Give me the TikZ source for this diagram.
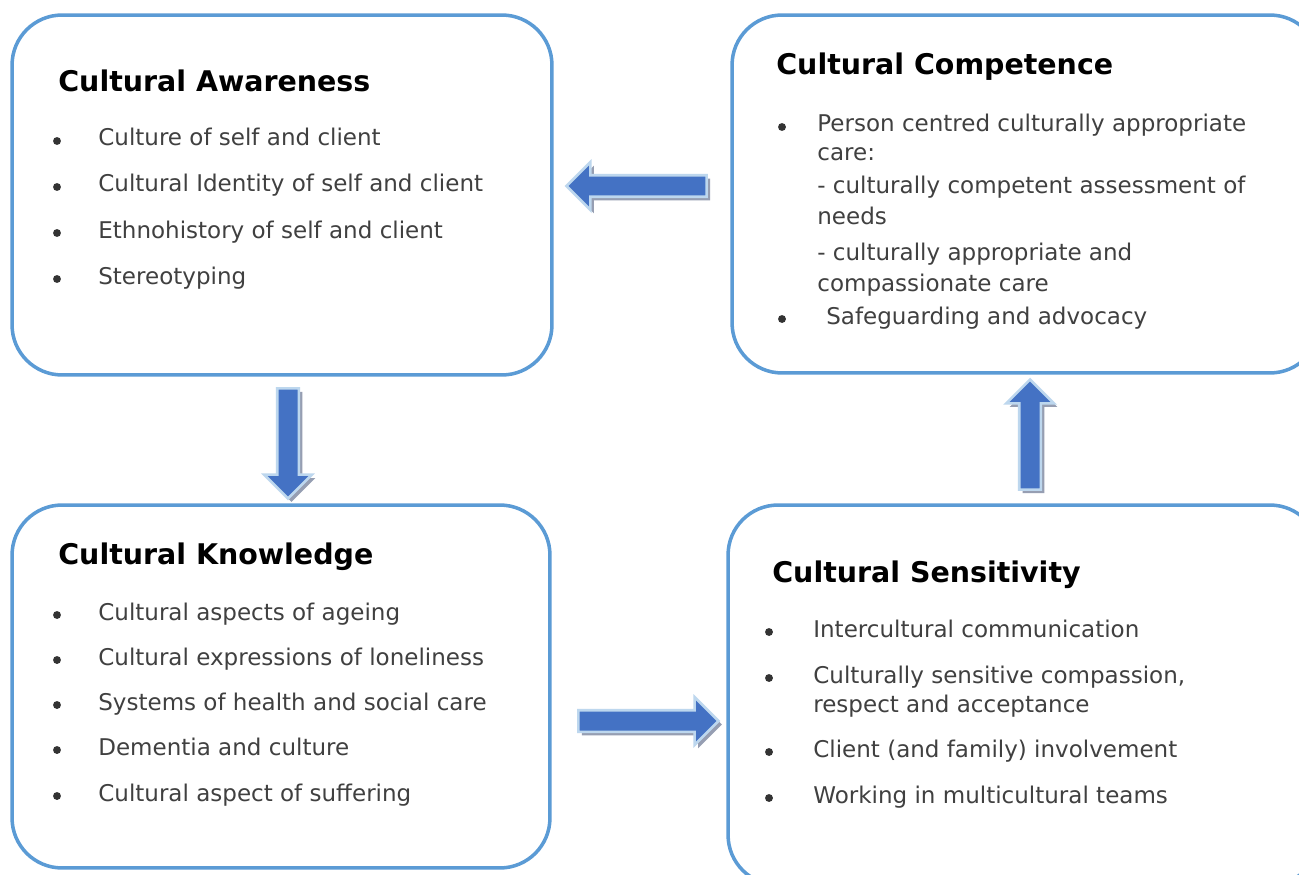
\documentclass[tikz,border=0pt]{standalone}
\usepackage{fontspec}
\setmainfont{DejaVu Sans}
\usetikzlibrary{shapes.arrows,shadows}

\definecolor{boxblue}{RGB}{91,155,213}
\definecolor{arrowblue}{RGB}{68,114,196}
\definecolor{arrowedge}{RGB}{189,215,238}
\definecolor{arrowshade}{RGB}{150,158,178}
\definecolor{itemgray}{RGB}{64,64,64}

\tikzset{
  box/.style={draw=boxblue, line width=2pt, rounded corners=1cm, fill=white},
  boxtitle/.style={anchor=base west, inner sep=0pt, font=\fontsize{16.2}{19}\selectfont\bfseries},
  boxitem/.style={anchor=base west, inner sep=0pt, text=itemgray, font=\fontsize{13.1}{15}\selectfont},
  dot/.style={circle, fill=itemgray!80!black, inner sep=0pt, minimum size=4.5pt},
  blockarrow/.style={single arrow, draw=arrowedge, fill=arrowblue, line width=1.5pt,
    inner sep=0pt, single arrow head extend=0.26cm,
    drop shadow={shadow xshift=2pt, shadow yshift=-2pt, fill=arrowshade, opacity=1}},
  flat/.style={inner ysep=0.19cm},
  upright/.style={inner xsep=0.19cm}
}

\begin{document}
\begin{tikzpicture}[x=0.02cm,y=-0.02cm]
  \clip (0,0) rectangle (1299,875);
  \fill[white] (0,0) rectangle (1299,875);

  % the four boxes
  \node[box, minimum width=10.8cm, minimum height=7.2cm] (awareness) at (282,195) {};
  \node[box, minimum width=11.76cm, minimum height=7.16cm] (competence) at (1026,194) {};
  \node[box, minimum width=10.76cm, minimum height=7.26cm] (knowledge) at (281,686.5) {};
  \node[box, minimum width=11.84cm, minimum height=7.6cm] (sensitivity) at (1024,695) {};

  % Cultural Awareness
  \node[boxtitle] (awarenessTitle) at (58,92) {Cultural Awareness};
  \node[dot] (awarenessDotA) at (57,141) {};
  \node[boxitem] (awarenessA) at (98,146) {Culture of self and client};
  \node[dot] (awarenessDotB) at (57,187) {};
  \node[boxitem] (awarenessB) at (98,192) {Cultural Identity of self and client};
  \node[dot] (awarenessDotC) at (57,233) {};
  \node[boxitem] (awarenessC) at (98,238) {Ethnohistory of self and client};
  \node[dot] (awarenessDotD) at (57,279) {};
  \node[boxitem] (awarenessD) at (98,284) {Stereotyping};

  % Cultural Competence
  \node[boxtitle] (competenceTitle) at (776,75) {Cultural Competence};
  \node[dot] (competenceDotA) at (782,127) {};
  \node[boxitem] (competenceA) at (817,132) {Person centred culturally appropriate};
  \node[boxitem] (competenceB) at (817,161) {care:};
  \node[boxitem] (competenceC) at (817,194) {- culturally competent assessment of};
  \node[boxitem] (competenceD) at (817,224) {needs};
  \node[boxitem] (competenceE) at (817,260) {- culturally appropriate and};
  \node[boxitem] (competenceF) at (817,291) {compassionate care};
  \node[dot] (competenceDotB) at (782,319) {};
  \node[boxitem] (competenceG) at (826,324) {Safeguarding and advocacy};

  % Cultural Knowledge
  \node[boxtitle] (knowledgeTitle) at (58,564) {Cultural Knowledge};
  \node[dot] (knowledgeDotA) at (57,615) {};
  \node[boxitem] (knowledgeA) at (98,620) {Cultural aspects of ageing};
  \node[dot] (knowledgeDotB) at (57,660) {};
  \node[boxitem] (knowledgeB) at (98,665) {Cultural expressions of loneliness};
  \node[dot] (knowledgeDotC) at (57,705) {};
  \node[boxitem] (knowledgeC) at (98,710) {Systems of health and social care};
  \node[dot] (knowledgeDotD) at (57,750) {};
  \node[boxitem] (knowledgeD) at (98,755) {Dementia and culture};
  \node[dot] (knowledgeDotE) at (57,796) {};
  \node[boxitem] (knowledgeE) at (98,801) {Cultural aspect of suffering};

  % Cultural Sensitivity
  \node[boxtitle] (sensitivityTitle) at (772,582) {Cultural Sensitivity};
  \node[dot] (sensitivityDotA) at (769,632) {};
  \node[boxitem] (sensitivityA) at (813,637) {Intercultural communication};
  \node[dot] (sensitivityDotB) at (769,678) {};
  \node[boxitem] (sensitivityB) at (813,683) {Culturally sensitive compassion,};
  \node[boxitem] (sensitivityC) at (813,712) {respect and acceptance};
  \node[dot] (sensitivityDotC) at (769,752) {};
  \node[boxitem] (sensitivityD) at (813,757) {Client (and family) involvement};
  \node[dot] (sensitivityDotD) at (769,798) {};
  \node[boxitem] (sensitivityE) at (813,803) {Working in multicultural teams};

  % block arrows between the boxes
  \node[blockarrow, flat, minimum height=2.8cm, shape border rotate=180] (toAwareness) at (642,186) {};
  \node[blockarrow, upright, minimum height=2.2cm, shape border rotate=270] (toKnowledge) at (288,438) {};
  \node[blockarrow, flat, minimum height=2.8cm] (toSensitivity) at (643,721) {};
  \node[blockarrow, upright, minimum height=2.2cm, shape border rotate=90] (toCompetence) at (1030,440) {};
\end{tikzpicture}
\end{document}
